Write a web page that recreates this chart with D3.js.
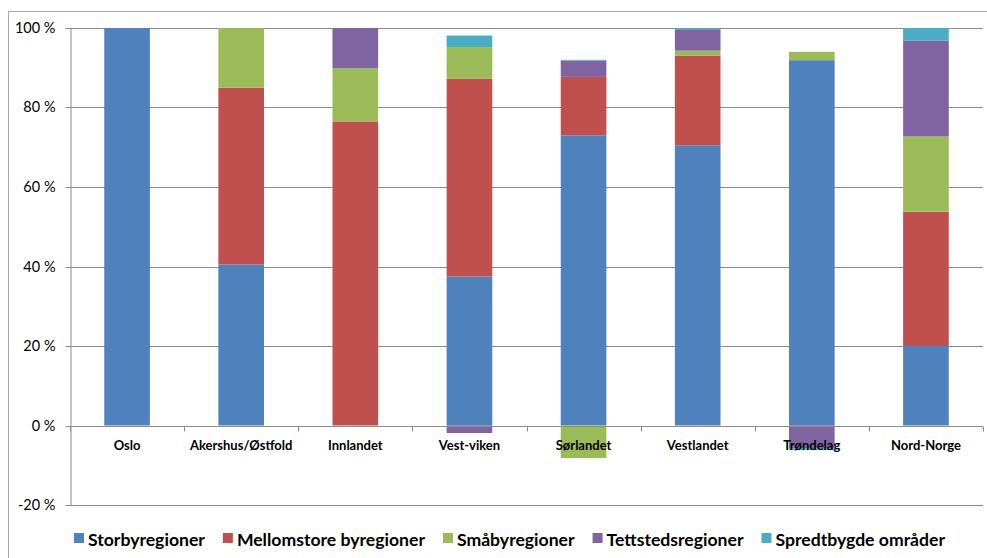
<!DOCTYPE html>
<html>
<head>
<meta charset="utf-8">
<script src="https://cdn.jsdelivr.net/npm/d3@7"></script>
<style>
  html, body { margin: 0; padding: 0; background: #fff; }
  svg { display: block; font-family: Lato, "Open Sans", sans-serif; }
</style>
</head>
<body>
<svg id="chart" width="987" height="558"></svg>
<script>
// Regions (x categories)
const regions = ["Oslo", "Akershus/Østfold", "Innlandet", "Vest-viken", "Sørlandet", "Vestlandet", "Trøndelag", "Nord-Norge"];

// Share (%) per region type, one array per series
const seriesNames = ["Storbyregioner", "Mellomstore byregioner", "Småbyregioner", "Tettstedsregioner", "Spredtbygde områder"];
const storby     = [100, 40.5, 0,    37.5, 73.0, 70.5, 91.9, 20.0];
const mellomstor = [0,   44.5, 76.5, 49.7, 14.7, 22.5, 0,    33.8];
const smaby      = [0,   15.0, 13.4, 8.0,  -8.2, 1.3,  2.1,  18.9];
const tettsted   = [0,   0,    10.1, -1.9, 4.1,  5.4,  -5.7, 24.1];
const spredt     = [0,   0,    0,    2.9,  0.2,  0.3,  -0.5, 3.2];

const yTicks = [-20, 0, 20, 40, 60, 80, 100];
const colors = ["#4F81BD", "#C0504D", "#9BBB59", "#8064A2", "#4BACC6"];

const seriesValues = [storby, mellomstor, smaby, tettsted, spredt];
const rows = regions.map((r, i) => {
  const o = { region: r };
  seriesNames.forEach((s, k) => { o[s] = seriesValues[k][i]; });
  return o;
});

const svg = d3.select("#chart");
const W = 987, H = 558;
const plot = { left: 70, right: 983, top: 28, bottom: 505 };

// Outer chart frame (top and left edges visible)
svg.append("line").attr("x1", 8.5).attr("x2", W).attr("y1", 11.5).attr("y2", 11.5)
  .attr("stroke", "#a6a6a6").attr("stroke-width", 1);
svg.append("line").attr("x1", 8.5).attr("x2", 8.5).attr("y1", 11.5).attr("y2", H)
  .attr("stroke", "#a6a6a6").attr("stroke-width", 1);

const x = d3.scaleBand().domain(regions).range([plot.left, plot.right]).paddingInner(0.6).paddingOuter(0.3);
const y = d3.scaleLinear().domain([-20, 100]).range([plot.bottom, plot.top]);

// Horizontal gridlines
svg.append("g").selectAll("line").data(yTicks).join("line")
  .attr("x1", plot.left).attr("x2", plot.right)
  .attr("y1", d => Math.round(y(d)) + 0.5).attr("y2", d => Math.round(y(d)) + 0.5)
  .attr("stroke", "#8c8c8c").attr("stroke-width", 1);

// Y axis
const yAxis = d3.axisLeft(y).tickValues(yTicks).tickSize(5).tickFormat(d => d + " %");
const gy = svg.append("g").attr("transform", `translate(${plot.left + 0.5},0)`).call(yAxis);
gy.select(".domain").attr("stroke", "#8c8c8c");
gy.selectAll(".tick line").attr("stroke", "#8c8c8c");
gy.selectAll(".tick text").attr("x", -15).attr("font-size", 14.5).attr("fill", "#000")
  .attr("font-family", "Lato, sans-serif");
gy.selectAll(".tick").attr("transform", d => `translate(0,${Math.round(y(d)) + 0.5})`);

// Stacked bars (diverging for negative shares)
const stack = d3.stack().keys(seriesNames).offset(d3.stackOffsetDiverging);
const stacked = stack(rows);

svg.append("g").selectAll("g").data(stacked).join("g")
  .attr("fill", (d, i) => colors[i])
  .selectAll("rect").data(d => d).join("rect")
  .attr("x", d => x(d.data.region))
  .attr("width", x.bandwidth())
  .attr("y", d => y(Math.max(d[0], d[1])))
  .attr("height", d => Math.abs(y(d[0]) - y(d[1])));

// Category axis at 0 %
const y0 = Math.round(y(0)) + 0.5;
svg.append("line").attr("x1", plot.left).attr("x2", plot.right).attr("y1", y0).attr("y2", y0)
  .attr("stroke", "#8c8c8c");
const tickXs = d3.range(regions.length + 1).map(i => plot.left + i * (plot.right - plot.left) / regions.length);
svg.append("g").selectAll("line").data(tickXs).join("line")
  .attr("x1", d => Math.round(d) + 0.5).attr("x2", d => Math.round(d) + 0.5)
  .attr("y1", y0).attr("y2", y0 + 5).attr("stroke", "#8c8c8c");
svg.append("g").selectAll("text").data(regions).join("text")
  .attr("x", d => x(d) + x.bandwidth() / 2)
  .attr("y", y0 + 23)
  .attr("text-anchor", "middle")
  .attr("font-size", 13).attr("font-weight", "bold").attr("fill", "#000")
  .text(d => d);

// Legend
const legend = svg.append("g");
let lx = 74;
seriesNames.forEach((s, i) => {
  legend.append("rect").attr("x", lx).attr("y", 533).attr("width", 10).attr("height", 10).attr("fill", colors[i]);
  const t = legend.append("text").attr("x", lx + 14).attr("y", 545.5)
    .attr("font-size", 17.6).attr("font-weight", "bold").attr("fill", "#000").text(s);
  lx += 14 + t.node().getComputedTextLength() + 18;
});
</script>
</body>
</html>
